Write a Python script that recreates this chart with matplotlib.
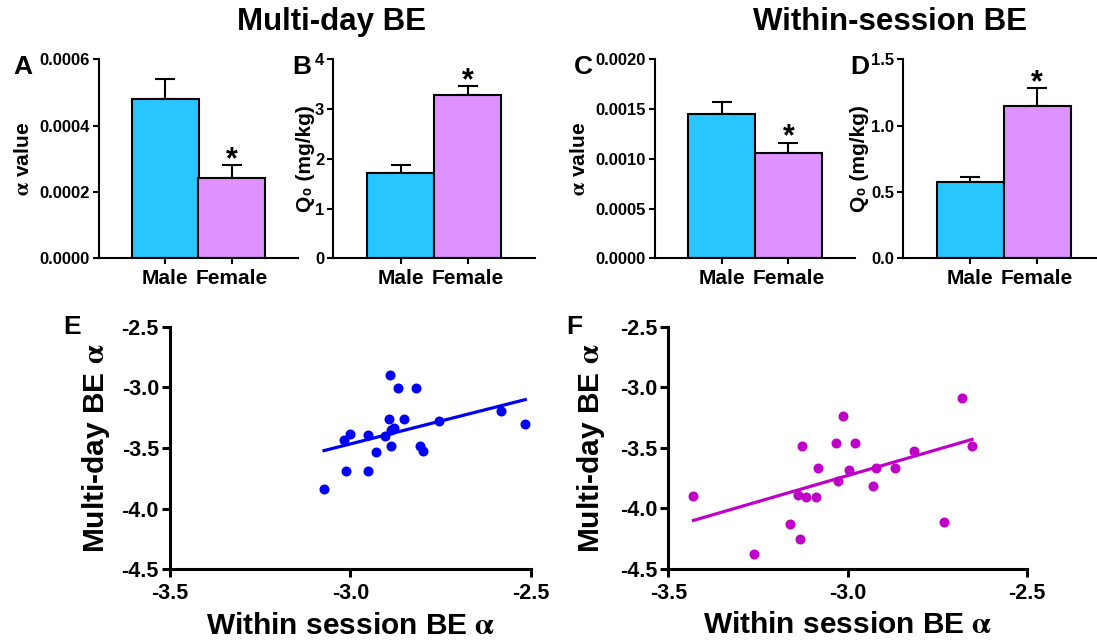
import numpy as np
import matplotlib
matplotlib.use("Agg")
import matplotlib.pyplot as plt

plt.rcParams['font.family'] = ['Liberation Sans', 'DejaVu Sans']
plt.rcParams['font.weight'] = 'bold'
plt.rcParams['mathtext.fontset'] = 'stix'

# ---------------- data ----------------
groups = ["Male", "Female"]
bar_colors = ["#27C6FF", "#DD92FF"]

# Multi-day BE
multi_alpha_mean = [0.000479, 0.000241]
multi_alpha_sem = [0.000061, 0.000039]
multi_q0_mean = [1.72, 3.28]
multi_q0_sem = [0.155, 0.175]
# Within-session BE
within_alpha_mean = [0.00145, 0.001055]
within_alpha_sem = [0.00012, 0.000105]
within_q0_mean = [0.573, 1.150]
within_q0_sem = [0.037, 0.131]

# Scatter E (male)
male_within = [-3.073, -3.011, -2.952, -3.017, -3.001, -2.952, -2.929, -2.903,
               -2.893, -2.891, -2.868, -2.819, -2.852, -2.886, -2.879, -2.887,
               -2.806, -2.799, -2.755, -2.581, -2.515]
male_multi = [-3.837, -3.689, -3.689, -3.436, -3.384, -3.389, -3.535, -3.403,
              -3.258, -2.898, -3.008, -3.008, -3.260, -3.351, -3.332, -3.480,
              -3.483, -3.524, -3.277, -3.195, -3.302]
# Scatter F (female)
female_within = [-3.430, -3.261, -3.161, -3.133, -3.139, -3.117, -3.089, -3.128,
                 -3.083, -3.033, -3.014, -2.979, -3.027, -2.996, -2.931, -2.921,
                 -2.869, -2.816, -2.732, -2.682, -2.654]
female_multi = [-3.897, -4.375, -4.128, -4.252, -3.889, -3.911, -3.911, -3.490,
                -3.668, -3.460, -3.237, -3.460, -3.773, -3.685, -3.814, -3.668,
                -3.668, -3.526, -4.117, -3.086, -3.484]

ALPHA = r'$\mathrm{\alpha}$'

W, H = 1097, 642
fig = plt.figure(figsize=(W / 100, H / 100), dpi=100)


def add_ax(l, r, t, b):
    return fig.add_axes([l / W, (H - b) / H, (r - l) / W, (b - t) / H])


def bar_panel(ax, means, sems, ylim, yticks, fmt, ylabel, label_x):
    x = np.arange(len(groups))
    ax.bar(x, means, width=1.0, color=bar_colors, edgecolor='black',
           linewidth=1.5, zorder=2)
    ax.errorbar(x, means, yerr=[[0] * len(sems), sems], fmt='none',
                ecolor='black', elinewidth=1.5, capsize=7, capthick=1.5,
                zorder=1)
    ax.set_xlim(-1, 2)
    ax.set_ylim(*ylim)
    ax.set_yticks(yticks)
    ax.set_yticklabels([fmt.format(v) for v in yticks])
    ax.set_xticks(x)
    ax.set_xticklabels(groups, fontsize=15, fontweight='bold')
    for s in ['top', 'right']:
        ax.spines[s].set_visible(False)
    for s in ['left', 'bottom']:
        ax.spines[s].set_linewidth(1.5)
    ax.tick_params(axis='y', labelsize=12, width=1.5, length=4.5, pad=2)
    ax.tick_params(axis='x', width=1.5, length=4.5, pad=3)
    for lab in ax.get_yticklabels():
        lab.set_fontweight('bold')
    ax.set_ylabel(ylabel, fontsize=15, fontweight='bold')
    ax.yaxis.set_label_coords(label_x, 0.5)
    top = means[1] + sems[1]
    ax.annotate('*', xy=(1, top), xytext=(0, -2), textcoords='offset points',
                ha='center', va='baseline', fontsize=22, fontweight='bold')


axA = add_ax(99, 298, 59.3, 258.3)
bar_panel(axA, multi_alpha_mean, multi_alpha_sem, (0, 0.0006),
          [0, 0.0002, 0.0004, 0.0006], '{:.4f}', ALPHA + ' value', -0.33)
axB = add_ax(333.3, 535, 59.3, 258.3)
bar_panel(axB, multi_q0_mean, multi_q0_sem, (0, 4),
          [0, 1, 2, 3, 4], '{:.0f}', 'Q\u2080 (mg/kg)', -0.09)
axC = add_ax(655, 855, 59.3, 258.3)
bar_panel(axC, within_alpha_mean, within_alpha_sem, (0, 0.002),
          [0, 0.0005, 0.001, 0.0015, 0.002], '{:.4f}', ALPHA + ' value', -0.33)
axD = add_ax(903.3, 1104, 59.3, 258.3)
bar_panel(axD, within_q0_mean, within_q0_sem, (0, 1.5),
          [0, 0.5, 1.0, 1.5], '{:.1f}', 'Q\u2080 (mg/kg)', -0.17)


def scatter_panel(ax, xs, ys, color, label_x):
    xs = np.asarray(xs)
    ys = np.asarray(ys)
    ax.scatter(xs, ys, s=52, color=color, zorder=3, linewidths=0)
    k, c = np.polyfit(xs, ys, 1)
    xl = np.array([xs.min(), xs.max()])
    ax.plot(xl, k * xl + c, color=color, linewidth=2.3, zorder=2)
    ax.set_xlim(-3.5, -2.5)
    ax.set_ylim(-4.5, -2.5)
    ax.set_xticks([-3.5, -3.0, -2.5])
    ax.set_yticks([-4.5, -4.0, -3.5, -3.0, -2.5])
    ax.set_xticklabels(['{:.1f}'.format(v) for v in [-3.5, -3.0, -2.5]])
    ax.set_yticklabels(['{:.1f}'.format(v) for v in [-4.5, -4.0, -3.5, -3.0, -2.5]])
    for s in ['top', 'right']:
        ax.spines[s].set_visible(False)
    for s in ['left', 'bottom']:
        ax.spines[s].set_linewidth(2.2)
    ax.tick_params(axis='both', labelsize=15.5, width=2.2, length=6)
    ax.tick_params(axis='y', pad=2)
    ax.tick_params(axis='x', pad=4)
    for lab in ax.get_xticklabels() + ax.get_yticklabels():
        lab.set_fontweight('bold')
    ax.set_xlabel('Within session BE ' + ALPHA, fontsize=21.5, fontweight='bold')
    ax.set_ylabel('Multi-day BE ' + ALPHA, fontsize=21.5, fontweight='bold')
    ax.xaxis.set_label_coords(0.5, -0.175)
    ax.yaxis.set_label_coords(label_x, 0.5)


axE = add_ax(170, 530.7, 326.7, 569.3)
scatter_panel(axE, male_within, male_multi, '#0000F5', -0.161)
axF = add_ax(668.3, 1027.3, 326.7, 568.7)
scatter_panel(axF, female_within, female_multi, '#BE00C8', -0.171)

# titles
fig.text(332 / W, 1 - 22 / H, 'Multi-day BE', ha='center', va='center',
         fontsize=22.5, fontweight='bold')
fig.text(890 / W, 1 - 22 / H, 'Within-session BE', ha='center', va='center',
         fontsize=22.5, fontweight='bold')

# panel letters
for lab, x, y in [('A', 23, 67), ('B', 302, 67), ('C', 583, 67), ('D', 860, 67),
                  ('E', 72, 327), ('F', 574, 327)]:
    fig.text(x / W, 1 - y / H, lab, ha='center', va='center', fontsize=19,
             fontweight='bold')

fig.savefig('out.png', dpi=100)
